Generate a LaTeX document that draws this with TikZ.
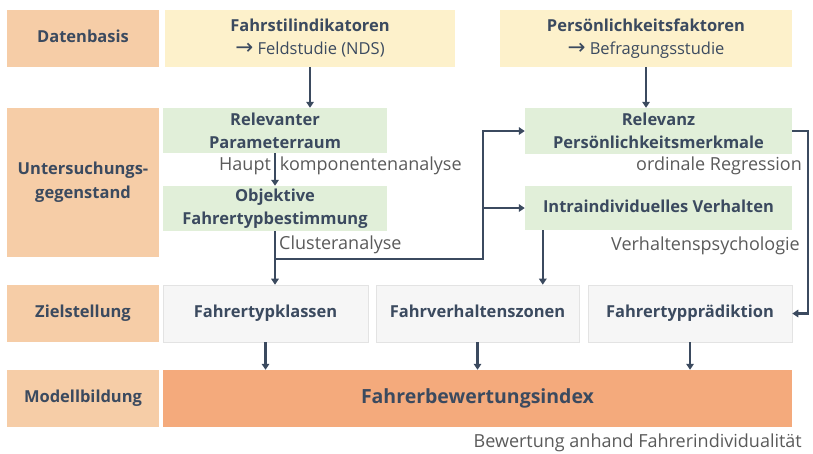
\documentclass[tikz,border=0pt]{standalone}
\usepackage{fontspec}
\setmainfont{Open Sans}
\newfontfamily\pfeilfont[Scale=1.3]{DejaVu Sans}
\usetikzlibrary{arrows.meta}
\definecolor{pfirsich}{HTML}{F6CDA7}
\definecolor{gelb}{HTML}{FDF1CB}
\definecolor{gruen}{HTML}{E1EFD9}
\definecolor{hellgrau}{HTML}{F6F6F6}
\definecolor{rahmen}{HTML}{E3E3E3}
\definecolor{orange}{HTML}{F4AA7C}
\definecolor{linie}{HTML}{3B4A5F}
\definecolor{notizgrau}{HTML}{5A5A5A}

\begin{document}
\begin{tikzpicture}[x=1pt,y=-1pt,>={Triangle[length=6pt,width=7.5pt]}]
		\tikzstyle{ebene}=[fill=pfirsich,text=linie,font=\bfseries\fontsize{16.5}{24}\selectfont,align=center,minimum width=152,minimum height=57,inner sep=0]
		\tikzstyle{quelle}=[fill=gelb,text=linie,font=\bfseries\fontsize{16.5}{23}\selectfont,align=center,minimum height=57,inner sep=0]
		\tikzstyle{analyse}=[fill=gruen,text=linie,font=\bfseries\fontsize{16.5}{23}\selectfont,align=center,inner sep=0]
		\tikzstyle{ziel}=[fill=hellgrau,draw=rahmen,line width=0.6pt,text=linie,font=\bfseries\fontsize{16.5}{23}\selectfont,minimum height=57,inner sep=0,text height=12pt,text depth=3.5pt]
		\tikzstyle{notiz}=[text=notizgrau,font=\fontsize{18}{22}\selectfont,inner sep=0]
		\tikzstyle{verb}=[draw=linie,line width=2.4pt]

		\useasboundingbox (0,0) rectangle (813,453);

		\node[ebene,text height=12pt,text depth=3.5pt](daten) at (83,38.5){Datenbasis};
		\node[ebene,minimum height=149](unters) at (83,182.5){Untersuchungs-\\gegenstand};
		\node[ebene,text height=12pt,text depth=3.5pt](zielst) at (83,313.5){Zielstellung};
		\node[ebene,text height=12pt,text depth=3.5pt](modell) at (83,398.5){Modellbildung};

		\node[quelle,minimum width=290](fsi) at (310,38.5){Fahrstilindikatoren\\{\mdseries{\pfeilfont →} Feldstudie (NDS)}};
		\node[quelle,minimum width=292](pkf) at (646,38.5){Persönlichkeitsfaktoren\\{\mdseries{\pfeilfont →} Befragungsstudie}};

		\node[analyse,minimum width=224,minimum height=45](rpr) at (275,130.5){Relevanter\\Parameterraum};
		\node[analyse,minimum width=224,minimum height=45](obj) at (275,208.5){Objektive\\Fahrertypbestimmung};
		\node[analyse,minimum width=267,minimum height=46](relz) at (658.5,131){Relevanz\\Persönlichkeitsmerkmale};
		\node[analyse,minimum width=267,minimum height=44,text height=12pt,text depth=3.5pt](intra) at (658.5,208){Intraindividuelles Verhalten};

		\node[ziel,minimum width=205](ftk) at (265.5,313.5){Fahrertypklassen};
		\node[ziel,minimum width=203](fvz) at (477.5,313.5){Fahrverhaltenszonen};
		\node[ziel,minimum width=204](pred) at (690,313.5){Fahrertypprädiktion};

		\node[fill=orange,text=linie,font=\bfseries\fontsize{19.5}{23}\selectfont,minimum width=629,minimum height=57](fbi) at (477.5,398.5){Fahrerbewertungsindex};

		\node[notiz,anchor=west](hka) at (219,166){Haupt\hspace{9pt}komponentenanalyse};
		\node[notiz,anchor=east](ordreg) at (802,166){ordinale Regression};
		\node[notiz,anchor=west](clu) at (279,245){Clusteranalyse};
		\node[notiz,anchor=east](vpsy) at (800,246){Verhaltenspsychologie};
		\node[notiz,anchor=east](bew) at (802,443){Bewertung anhand Fahrerindividualität};

		\coordinate (split) at (275,259);
		\coordinate (bus) at (483,259);

		\draw[verb,->] (fsi.south) -- (fsi.south |- rpr.north);
		\draw[verb,->] (pkf.south) -- (pkf.south |- relz.north);
		\draw[verb,->] (rpr.south) -- (obj.north);
		\draw[verb,->] (obj.south) -- (ftk.north -| obj.south);
		\draw[verb,->] (split) -- (bus) |- (relz.west);
		\draw[verb,->] (bus |- intra.west) -- (intra.west);
		\draw[verb,->] ([xshift=18pt]intra.south west) -- ([xshift=18pt]intra.south west |- fvz.north);
		\draw[verb,->] (relz.east) -- ++(16,0) |- (pred.east);
		\draw[verb,->] (ftk.south) -- (ftk.south |- fbi.north);
		\draw[verb,->] (fvz.south) -- (fvz.south |- fbi.north);
		\draw[verb,->] (pred.south) -- (pred.south |- fbi.north);
	\end{tikzpicture}
\end{document}
